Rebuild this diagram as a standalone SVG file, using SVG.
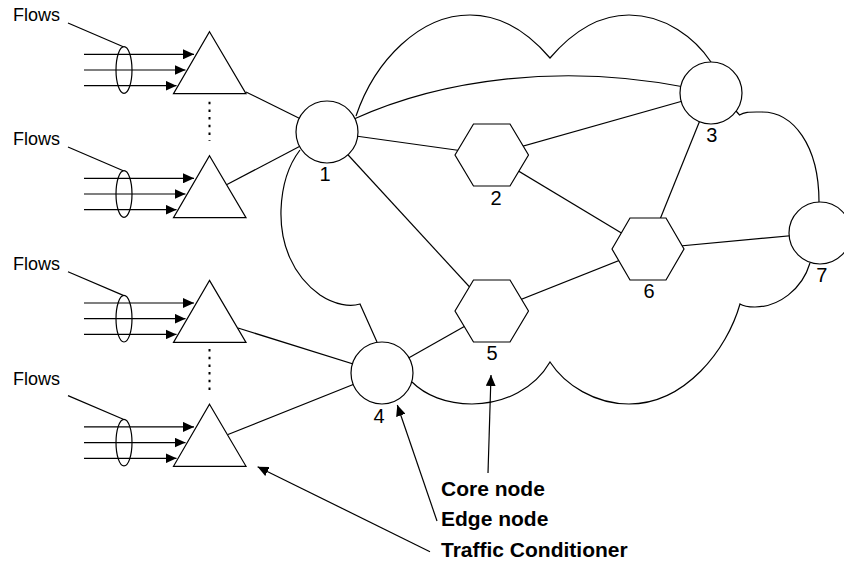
<svg xmlns="http://www.w3.org/2000/svg" width="844" height="561" viewBox="0 0 844 561">
<style>
.s{fill:none;stroke:#000;stroke-width:1.2}
.n{fill:#fff;stroke:#000;stroke-width:1.2}
.fl{font-family:"Liberation Sans",Arial,sans-serif;font-size:18px;fill:#000}
.num{font-family:"Liberation Sans",Arial,sans-serif;font-size:20px;fill:#000;text-anchor:middle}
.lb{font-family:"Liberation Sans",Arial,sans-serif;font-size:21px;font-weight:bold;fill:#000}
.dot{fill:none;stroke:#000;stroke-width:2;stroke-dasharray:2.5 5.2}
</style>
<defs>
<marker id="ah" markerUnits="userSpaceOnUse" markerWidth="11" markerHeight="10" refX="11" refY="5" orient="auto"><path d="M0,0 L11,5 L0,10 z" fill="#000"/></marker>
</defs>
<rect width="844" height="561" fill="#fff"/>
<g id="cloud" class="s">
<path d="M356,116 C375,60 420,15 470,15 C505,15 532,37 550,58 C568,37 595,15 629,15 C665,15 695,38 711,62"/>
<path d="M736,111 L739.5,115 C745,111.5 750,112 762,112 C793,112 819,145 819,202"/>
<path d="M810,263 C802,290 778,307 755,307 C748,307 743,306 740,304 C727,350 685,404 629,404 C595,404 565,385 550,362 C535,388 505,404 472,404 C446,404 425,395 412,382"/>
<path d="M377,342 L360,304 C350,307 335,305 320,295 C292,275 280,243 281,210 C282,182 290,163 300,150"/>
</g>
<g id="flows1"><text class="fl" x="13" y="21">Flows</text><line class="s" x1="68" y1="23" x2="123.3" y2="46.7"/><ellipse class="s" cx="124" cy="70" rx="8" ry="23.3"/></g>
<g id="flows2"><text class="fl" x="13" y="144.5">Flows</text><line class="s" x1="68" y1="147" x2="123.3" y2="170.7"/><ellipse class="s" cx="124" cy="194" rx="8" ry="23.3"/></g>
<g id="flows3"><text class="fl" x="13" y="270">Flows</text><line class="s" x1="68" y1="271.7" x2="123.3" y2="295.4"/><ellipse class="s" cx="124" cy="318.7" rx="8" ry="23.3"/></g>
<g id="flows4"><text class="fl" x="13" y="385">Flows</text><line class="s" x1="68" y1="395.6" x2="123.3" y2="419.3"/><ellipse class="s" cx="124" cy="442.6" rx="8" ry="23.3"/></g>
<g id="connectors" class="s">
<line x1="84" y1="54.3" x2="194" y2="54.3" marker-end="url(#ah)"/>
<line x1="84" y1="70" x2="185.5" y2="70" marker-end="url(#ah)"/>
<line x1="84" y1="85.7" x2="176.5" y2="85.7" marker-end="url(#ah)"/>
<line x1="84" y1="178.3" x2="194" y2="178.3" marker-end="url(#ah)"/>
<line x1="84" y1="194" x2="185.5" y2="194" marker-end="url(#ah)"/>
<line x1="84" y1="209.7" x2="176.5" y2="209.7" marker-end="url(#ah)"/>
<line x1="84" y1="303" x2="194" y2="303" marker-end="url(#ah)"/>
<line x1="84" y1="318.7" x2="185.5" y2="318.7" marker-end="url(#ah)"/>
<line x1="84" y1="334.4" x2="176.5" y2="334.4" marker-end="url(#ah)"/>
<line x1="84" y1="426.9" x2="194" y2="426.9" marker-end="url(#ah)"/>
<line x1="84" y1="442.6" x2="185.5" y2="442.6" marker-end="url(#ah)"/>
<line x1="84" y1="458.3" x2="176.5" y2="458.3" marker-end="url(#ah)"/>
<line x1="246" y1="92" x2="327" y2="132"/>
<line x1="227" y1="184.5" x2="327" y2="132"/>
<line x1="238" y1="328" x2="382" y2="373"/>
<line x1="228" y1="434.5" x2="382" y2="373"/>
<line x1="327" y1="132" x2="491.7" y2="155"/>
<line x1="327" y1="132" x2="491.7" y2="311"/>
<path d="M354,119 C440,80 560,62 690,88"/>
<line x1="491.7" y1="155" x2="711" y2="93"/>
<line x1="491.7" y1="155" x2="648" y2="249"/>
<line x1="711" y1="93" x2="648" y2="249"/>
<line x1="491.7" y1="311" x2="648" y2="249"/>
<line x1="648" y1="249" x2="820" y2="233"/>
<line x1="382" y1="373" x2="491.7" y2="311"/>
<line class="dot" x1="209.5" y1="101.7" x2="209.5" y2="141"/>
<line class="dot" x1="209.5" y1="349" x2="209.5" y2="391"/>
<line x1="488" y1="473" x2="491" y2="375" marker-end="url(#ah)"/>
<line x1="437" y1="521" x2="397.3" y2="405" marker-end="url(#ah)"/>
<line x1="430" y1="551.7" x2="257.6" y2="466.7" marker-end="url(#ah)"/>
</g>
<g id="tc1"><polygon class="n" points="209.5,31.7 246,93.7 173.5,93.7"/></g>
<g id="tc2"><polygon class="n" points="209.5,155.7 246,217.7 173.5,217.7"/></g>
<g id="tc3"><polygon class="n" points="209.5,280.4 246,342.4 173.5,342.4"/></g>
<g id="tc4"><polygon class="n" points="209.5,404.3 246,466.3 173.5,466.3"/></g>
<g id="node1"><circle class="n" cx="327" cy="132" r="31"/><text class="num" x="325" y="181">1</text></g>
<g id="node2"><polygon class="n" points="455,155 473.5,124 510,124 528.5,155 510,186 473.5,186"/><text class="num" x="496" y="205">2</text></g>
<g id="node3"><circle class="n" cx="711" cy="93" r="31"/><text class="num" x="711.7" y="141.7">3</text></g>
<g id="node4"><circle class="n" cx="382" cy="373" r="31"/><text class="num" x="379" y="422.7">4</text></g>
<g id="node5"><polygon class="n" points="455,311 473.5,280 510,280 528.5,311 510,342 473.5,342"/><text class="num" x="492" y="360">5</text></g>
<g id="node6"><polygon class="n" points="612,249 630,218 666,218 684,249 666,280 630,280"/><text class="num" x="649" y="298.3">6</text></g>
<g id="node7"><circle class="n" cx="820" cy="233" r="31"/><text class="num" x="821.7" y="281.7">7</text></g>
<g id="legend">
<text class="lb" x="441" y="496">Core node</text>
<text class="lb" x="441" y="526">Edge node</text>
<text class="lb" x="441" y="557">Traffic Conditioner</text>
</g>
</svg>
